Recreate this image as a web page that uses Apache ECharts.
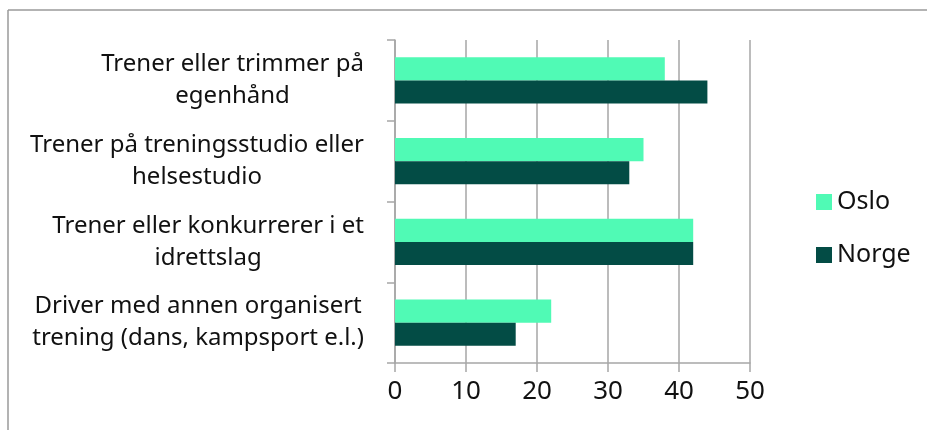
<!DOCTYPE html>
<html>
<head>
<meta charset="utf-8">
<script src="https://cdn.jsdelivr.net/npm/echarts@6/dist/echarts.min.js"></script>
<style>
  html, body { margin: 0; padding: 0; background: #fff; }
  #chart { width: 927px; height: 430px; }
</style>
</head>
<body>
<div id="chart"></div>
<script>
// kategorier (linjeskift som i originalen)
var categories = [
    'Trener eller trimmer på\negenhånd',
    'Trener på treningsstudio eller\nhelsestudio',
    'Trener eller konkurrerer i et\nidrettslag',
    'Driver med annen organisert\ntrening (dans, kampsport e.l.)'
];
var osloValues = [38, 35, 42, 22];
var norgeValues = [44, 33, 42, 17];
var xTicks = [0, 10, 20, 30, 40, 50];

var fontName = '"Noto Sans", sans-serif';
var gridColor = '#a6a6a6';

var chart = echarts.init(document.getElementById('chart'));

chart.setOption({
    animation: false,
    textStyle: { fontFamily: fontName, color: '#111' },
    color: ['#50fab5', '#034c45'],
    graphic: [
        { type: 'line', shape: { x1: 8, y1: 10, x2: 927, y2: 10 }, style: { stroke: '#9a9a9a', lineWidth: 1.5 } },
        { type: 'line', shape: { x1: 8, y1: 10, x2: 8, y2: 430 }, style: { stroke: '#9a9a9a', lineWidth: 1.5 } }
    ],
    grid: { left: 395, right: 177, top: 40, bottom: 67 },
    legend: {
        orient: 'vertical',
        left: 811,
        top: 182,
        itemWidth: 16,
        itemHeight: 16,
        itemGap: 23,
        icon: 'rect',
        textStyle: { fontSize: 25, lineHeight: 30, color: '#111', padding: [0, 0, 0, 0] },
        data: ['Oslo', 'Norge']
    },
    xAxis: {
        type: 'value',
        min: xTicks[0],
        max: xTicks[xTicks.length - 1],
        interval: 10,
        axisLine: { show: true, lineStyle: { color: gridColor, width: 1.5 } },
        axisTick: { show: true, length: 9, lineStyle: { color: gridColor, width: 1.5 } },
        splitLine: { show: true, lineStyle: { color: gridColor, width: 1.5 } },
        axisLabel: { fontSize: 26, color: '#111', margin: 16 }
    },
    yAxis: {
        type: 'category',
        inverse: true,
        data: categories,
        axisLine: { show: true, lineStyle: { color: gridColor, width: 1.5 } },
        axisTick: { show: true, length: 8, lineStyle: { color: gridColor, width: 1.5 } },
        axisLabel: {
            margin: 31,
            align: 'right',
            formatter: function (v) {
                return v.split('\n').map(function (s) { return '{c|' + s + '}'; }).join('\n');
            },
            rich: {
                c: { align: 'center', fontSize: 24, lineHeight: 32, color: '#111', fontFamily: fontName }
            }
        }
    },
    series: [
        { name: 'Oslo', type: 'bar', data: osloValues, barGap: '0%', barCategoryGap: '43%' },
        { name: 'Norge', type: 'bar', data: norgeValues, barGap: '0%', barCategoryGap: '43%' }
    ]
});
</script>
</body>
</html>
